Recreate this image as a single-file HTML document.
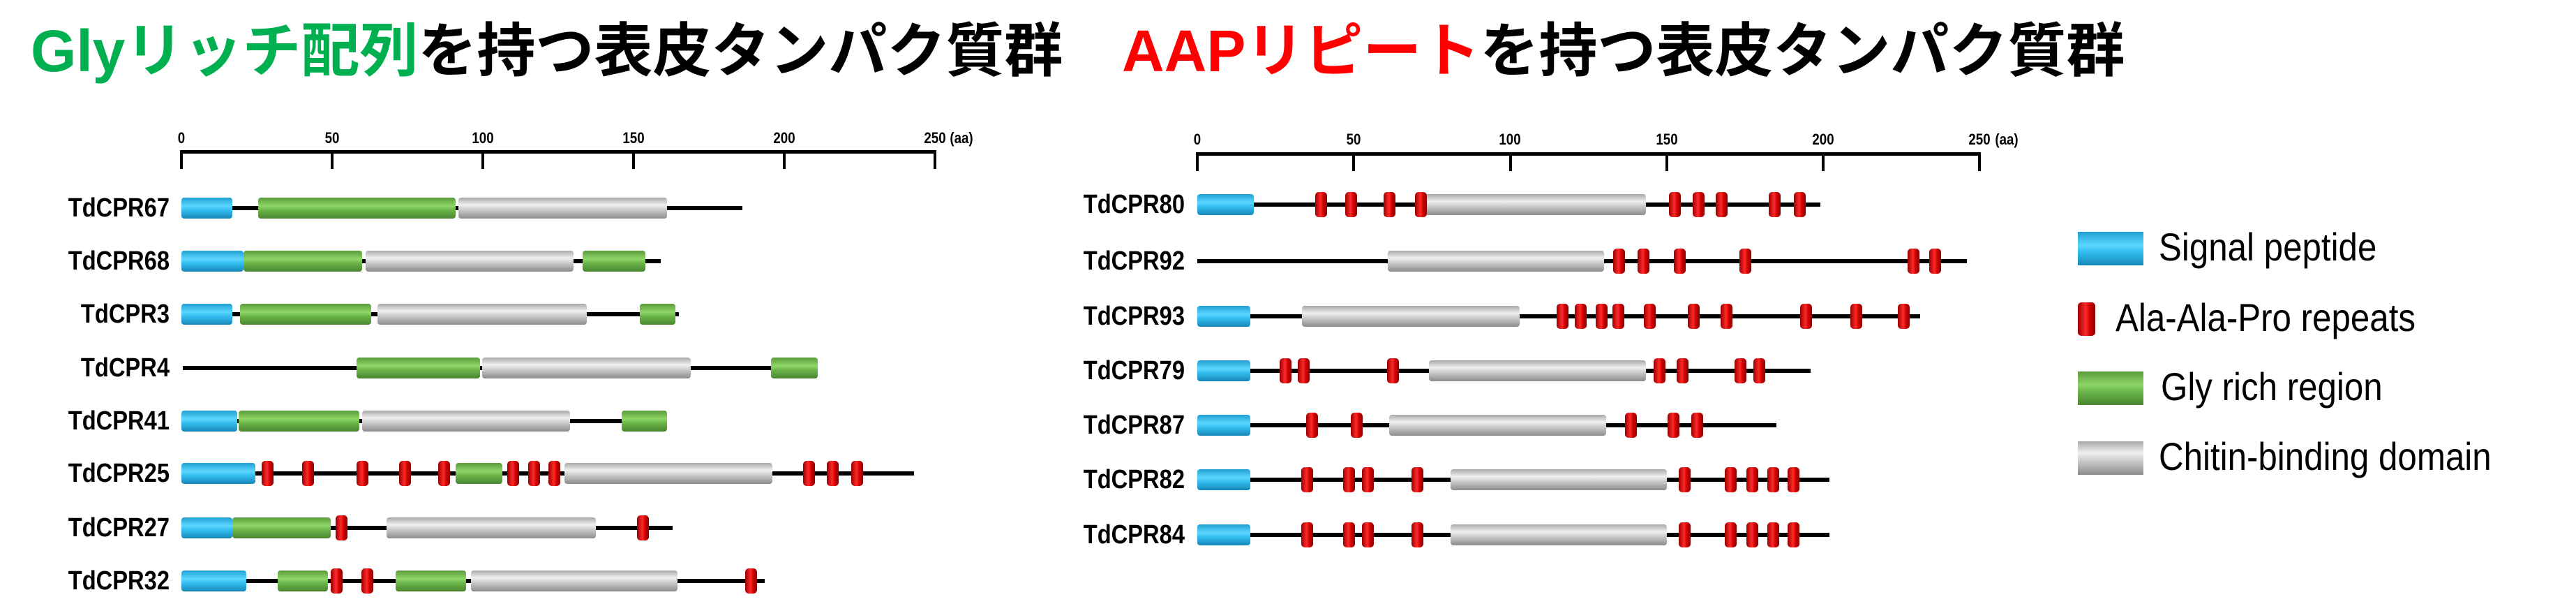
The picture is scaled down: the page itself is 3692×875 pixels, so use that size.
<!DOCTYPE html>
<html><head><meta charset="utf-8">
<style>
html,body{margin:0;padding:0;background:#fff;}
body{width:3692px;height:875px;position:relative;overflow:hidden;font-family:"Liberation Sans","Noto Sans CJK JP",sans-serif;}
.t{position:absolute;white-space:nowrap;font-weight:bold;font-size:84px;line-height:1;top:31px;}
.lab{position:absolute;white-space:nowrap;font-weight:bold;font-size:38px;line-height:38px;transform:scaleX(0.86);transform-origin:right center;text-align:right;width:200px;}
.ax{position:absolute;white-space:nowrap;font-weight:bold;font-size:22px;line-height:22px;transform:translateX(-50%) scaleX(0.85);}
.lg{position:absolute;white-space:nowrap;font-size:56px;line-height:56px;transform:scaleX(0.88);transform-origin:left center;}
.b{position:absolute;box-sizing:border-box;border-radius:4px;}
.blue{background:linear-gradient(#1f9fd3,#5cd6ff 40%,#33bdf0 60%,#1788b8);}
.green{background:linear-gradient(#5a9a3c,#8fd667 40%,#6ab54a 60%,#4a8530);}
.gray{background:linear-gradient(#a8a8a8,#f0f0f0 35%,#c8c8c8 60%,#8c8c8c);}
.red{background:linear-gradient(90deg,#990000,#ff2a2a 45%,#cc0000 70%,#880000);border-radius:5px;}
.k{position:absolute;background:#000;}
</style></head><body>
<div class="t" style="left:44px;"><span style="color:#00b050">Glyリッチ配列</span>を持つ表皮タンパク質群</div>
<div class="t" style="left:1608px;"><span style="color:#ff0000">AAPリピート</span>を持つ表皮タンパク質群</div>

<div class="lab" style="left:43px;top:279px;">TdCPR67</div>
<div class="lab" style="left:43px;top:355px;">TdCPR68</div>
<div class="lab" style="left:43px;top:431px;">TdCPR3</div>
<div class="lab" style="left:43px;top:508px;">TdCPR4</div>
<div class="lab" style="left:43px;top:584px;">TdCPR41</div>
<div class="lab" style="left:43px;top:659px;">TdCPR25</div>
<div class="lab" style="left:43px;top:737px;">TdCPR27</div>
<div class="lab" style="left:43px;top:813px;">TdCPR32</div>

<div class="lab" style="left:1498px;top:274px;">TdCPR80</div>
<div class="lab" style="left:1498px;top:355px;">TdCPR92</div>
<div class="lab" style="left:1498px;top:434px;">TdCPR93</div>
<div class="lab" style="left:1498px;top:512px;">TdCPR79</div>
<div class="lab" style="left:1498px;top:590px;">TdCPR87</div>
<div class="lab" style="left:1498px;top:668px;">TdCPR82</div>
<div class="lab" style="left:1498px;top:747px;">TdCPR84</div>

<div class="ax" style="left:260px;top:187px;">0</div>
<div class="ax" style="left:476px;top:187px;">50</div>
<div class="ax" style="left:692px;top:187px;">100</div>
<div class="ax" style="left:908px;top:187px;">150</div>
<div class="ax" style="left:1124px;top:187px;">200</div>
<div class="ax" style="left:1340px;top:187px;">250</div>
<div class="ax" style="left:1378px;top:187px;">(aa)</div>

<div class="ax" style="left:1716px;top:189px;">0</div>
<div class="ax" style="left:1940px;top:189px;">50</div>
<div class="ax" style="left:2164px;top:189px;">100</div>
<div class="ax" style="left:2389px;top:189px;">150</div>
<div class="ax" style="left:2613px;top:189px;">200</div>
<div class="ax" style="left:2837px;top:189px;">250</div>
<div class="ax" style="left:2876px;top:189px;">(aa)</div>

<div class="b blue" style="left:2978px;top:332px;width:94px;height:48px;border-radius:0;"></div>
<div class="b red" style="left:2978px;top:433px;width:25px;height:48px;"></div>
<div class="b green" style="left:2978px;top:532px;width:94px;height:48px;border-radius:0;"></div>
<div class="b gray" style="left:2978px;top:632px;width:94px;height:48px;border-radius:0;"></div>
<div class="lg" style="left:3094px;top:326px;">Signal peptide</div>
<div class="lg" style="left:3032px;top:427px;">Ala-Ala-Pro repeats</div>
<div class="lg" style="left:3097px;top:526px;">Gly rich region</div>
<div class="lg" style="left:3094px;top:626px;">Chitin-binding domain</div>

<div id="g"></div>
<script>
var g=document.getElementById('g');
function el(c,l,t,w,h){var d=document.createElement('div');d.className=c;d.style.left=l+'px';d.style.top=t+'px';d.style.width=w+'px';d.style.height=h+'px';g.appendChild(d);}
function panel(x0,ppa,ay,tb,rows){
  el('k',x0-2,ay-2.5,250*ppa+4,5);
  for(var i=0;i<=5;i++)el('k',x0+i*50*ppa-2,ay-2,4,tb-ay+2);
  rows.forEach(function(r){
    var y=r[0];
    el('k',x0+r[1]*ppa,y-3,(r[2]-r[1])*ppa,6);
    r[3].forEach(function(s){
      if(s[0]=='red'){el('b red',x0+s[1]*ppa-8,y-18,17,36);}
      else el('b '+s[0],x0+s[1]*ppa,y-15,(s[2]-s[1])*ppa,30);
    });
  });
}
function reds(a){return a.map(function(v){return['red',v];});}
panel(260,4.32,217,242,[
 [298,0,186,[['blue',0,17],['green',25.5,91],['gray',92,161]]],
 [374,0,159,[['blue',0,20.5],['green',20.5,60],['gray',61,130],['green',133,154]]],
 [450,0,165,[['blue',0,17],['green',19.5,63],['gray',65,134.5],['green',152,164]]],
 [527,0.5,211,[['green',58,99],['gray',99.8,169],['green',195.5,211]]],
 [603,0,161,[['blue',0,18.5],['green',19,59],['gray',60,129],['green',146,161]]],
 [678,0,243,[['blue',0,24.5],['green',91,106.5],['gray',127,196]].concat(reds([28.5,42,60,74,87,110,117,123.5,208,216,224]))],
 [756,0,163,[['blue',0,17],['green',17,49.5],['gray',68,137.5]].concat(reds([53,153]))],
 [832,0,193.5,[['blue',0,21.5],['green',32,48.5],['green',71,94.5],['gray',96,164.5]].concat(reds([51.5,61.5,189]))]
]);
var r82=[['blue',0,17],['gray',81,150]].concat(reds([35,48.4,54.4,70.3,155.6,170.3,177.3,183.9,190.4]));
panel(1716,4.485,220,245,[
 [293,0,199,[['blue',0,18],['gray',73,143.4]].concat(reds([39.5,49,61.4,71.3,152.4,160,167.5,184.3,192.4]))],
 [374,0,246,[['gray',60.8,130]].concat(reds([134.7,142.4,154,175,228.7,235.7]))],
 [453,0,231,[['blue',0,17],['gray',33.5,103]].concat(reds([116.5,122.5,129,134.5,144.4,158.6,169,194.4,210.4,225.7]))],
 [531,0,196,[['blue',0,17],['gray',74,143.4]].concat(reds([28,34,62.4,147.6,155,173.5,179.5]))],
 [609,0,185,[['blue',0,17],['gray',61.4,130.7]].concat(reds([36.5,50.8,138.4,152,159.6]))],
 [687,0,202,r82],
 [766,0,202,r82]
]);
</script>
</body></html>
